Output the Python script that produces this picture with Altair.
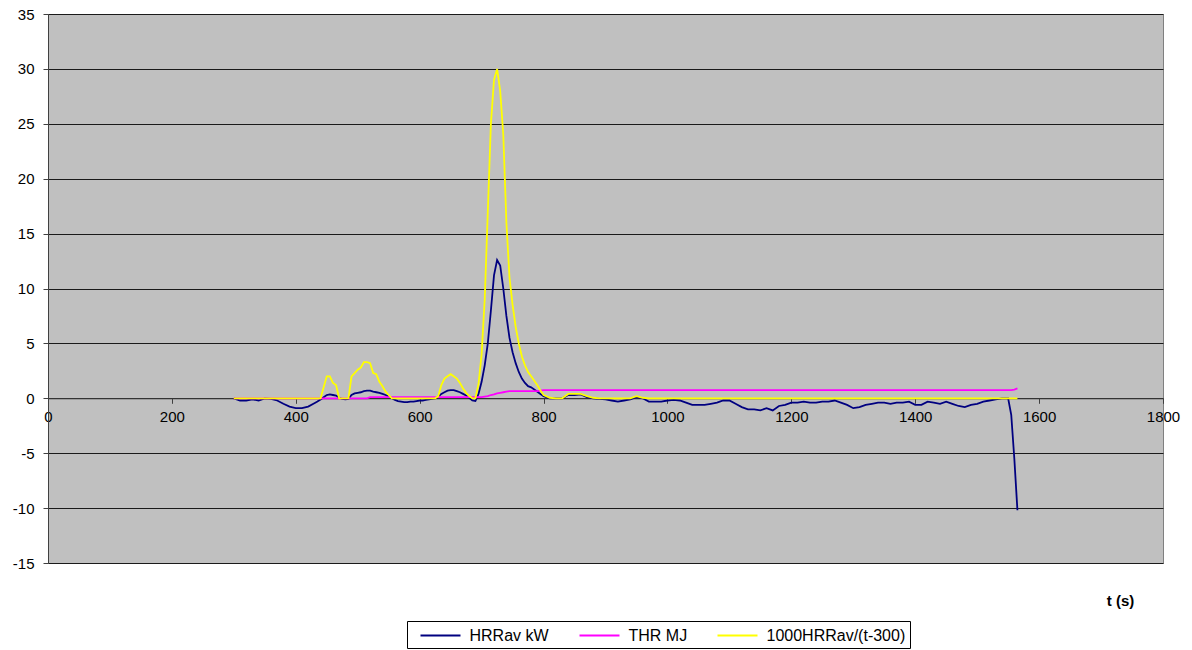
import altair as alt
import pandas as pd

# ---- time axis (s) ----
t_a = list(range(300, 431, 10))
t_b = list(range(435, 801, 5))
t_c = list(range(810, 1551, 10))
t_d = [1555, 1560, 1565]
t_values = t_a + t_b + t_c + t_d

# ---- HRRav kW ----
hrr_a = [0.0, -0.2, -0.2, -0.1, -0.2, 0.0, -0.05, -0.2, -0.5, -0.75, -0.9, -0.9, -0.75, -0.45]
hrr_b = [-0.3, -0.1, 0.1, 0.3, 0.35, 0.3, 0.25, 0.05, -0.05, -0.1,
         -0.05, 0.3, 0.45, 0.5, 0.55, 0.65, 0.7, 0.7, 0.6, 0.55,
         0.5, 0.4, 0.3, 0.15, 0.0, -0.15, -0.25, -0.3, -0.35, -0.35,
         -0.3, -0.3, -0.25, -0.2, -0.2, -0.15, -0.1, -0.05, 0.0, 0.15,
         0.4, 0.55, 0.7, 0.75, 0.75, 0.65, 0.55, 0.4, 0.25, 0.05,
         -0.2, -0.25, 0.4, 1.5, 3.0, 5.0, 8.0, 11.2, 12.6, 12.1,
         10.0, 7.5, 5.5, 4.2, 3.2, 2.4, 1.8, 1.4, 1.1, 1.0,
         0.8, 0.6, 0.4, 0.2]
hrr_c = [0.0, 0.0, 0.0, 0.3, 0.3, 0.35, 0.1, 0.0, -0.05, -0.1,
         -0.2, -0.3, -0.2, -0.1, 0.1, 0.0, -0.3, -0.3, -0.3, -0.2,
         -0.15, -0.2, -0.4, -0.6, -0.6, -0.6, -0.5, -0.4, -0.2, -0.2,
         -0.5, -0.8, -1.0, -1.0, -1.1, -0.9, -1.1, -0.7, -0.6, -0.4,
         -0.4, -0.3, -0.4, -0.4, -0.3, -0.3, -0.2, -0.4, -0.6, -0.9,
         -0.8, -0.6, -0.5, -0.4, -0.4, -0.5, -0.4, -0.4, -0.3, -0.6,
         -0.6, -0.3, -0.4, -0.5, -0.3, -0.5, -0.7, -0.8, -0.6, -0.5,
         -0.3, -0.2, -0.1, 0.0, 0.0]
hrr_d = [-1.5, -5.5, -10.2]
hrr = hrr_a + hrr_b + hrr_c + hrr_d

# ---- THR MJ ----
thr_a = [0.0] * 14
thr_b = [0.0] * 17 + [0.1] * 37 + [0.15, 0.2, 0.3, 0.35, 0.45, 0.5, 0.55, 0.6] + [0.65] * 10 + [0.7, 0.75]
thr_c = [0.75] * 75
thr_d = [0.75, 0.8, 0.9]
thr = thr_a + thr_b + thr_c + thr_d

# ---- 1000HRRav/(t-300) ----
ratio_a = [0.0] * 14
ratio_b = [0.0, 0.0, 1.0, 2.0, 2.0, 1.4, 1.2, 0.0, 0.0, 0.0,
           0.0, 2.0, 2.3, 2.6, 2.8, 3.3, 3.3, 3.2, 2.3, 2.2,
           1.5, 1.1, 0.6, 0.3, 0.0] + [0.0] * 14 + \
          [0.2, 1.2, 1.8, 2.0, 2.2, 2.0, 1.8, 1.4, 0.9, 0.5, 0.2,
           0.0, 0.0, 1.3, 4.0, 9.0, 17.0, 25.0, 29.0, 30.0, 28.0,
           24.0, 16.0, 11.0, 8.5, 6.5, 5.0, 3.8, 3.0, 2.4, 2.0,
           1.6, 1.2, 0.7, 0.3]
ratio_c = [0.05, 0.0, 0.0, 0.4, 0.4, 0.4, 0.2, 0.05, 0.0, 0.0,
           0.0, 0.0, 0.0, 0.0, 0.2, 0.05] + [0.0] * 59
ratio_d = [0.0, 0.0, 0.0]
ratio = ratio_a + ratio_b + ratio_c + ratio_d

series_names = ["HRRav kW", "THR MJ", "1000HRRav/(t-300)"]
series_colors = ["#000080", "#FF00FF", "#FFFF00"]
x_ticks = list(range(0, 1801, 200))
y_ticks = list(range(-15, 36, 5))

rows = []
for name, vals in zip(series_names, [hrr, thr, ratio]):
    for t, v in zip(t_values, vals):
        rows.append({"t": t, "value": v, "series": name})
df = pd.DataFrame(rows)

W, H = 1115, 549
FONT = "Liberation Sans"

color = alt.Color(
    "series:N",
    scale=alt.Scale(domain=series_names, range=series_colors),
    legend=alt.Legend(
        title=None,
        orient="none",
        legendX=359,
        legendY=607,
        direction="horizontal",
        symbolType="M-2.222,0L2.222,0",
        symbolSize=324,
        symbolStrokeWidth=2,
        symbolOffset=19,
        labelOffset=19,
        labelFont=FONT,
        labelFontSize=16,
        labelColor="black",
        labelLimit=300,
        columnPadding=21,
        padding=4.5,
        strokeColor="black",
        fillColor="white",
    ),
)

base = alt.Chart(df).mark_line(strokeWidth=1.8).encode(
    x=alt.X(
        "t:Q",
        scale=alt.Scale(domain=[0, 1800], nice=False, zero=False),
        axis=alt.Axis(
            values=x_ticks,
            offset=-H * 15 / 50,
            grid=False,
            labelExpr="'' + datum.value",
            title="t (s)",
            titleX=1072,
            titleY=202,
            titleAlign="center",
            titleBaseline="middle",
            titleFont=FONT,
            titleFontSize=15,
            titleFontWeight="bold",
            titleColor="black",
            labelFont=FONT,
            labelFontSize=15,
            labelColor="black",
            labelPadding=6,
            labelFlush=False,
            labelOverlap=False,
            tickSize=5,
            tickColor="#404040",
            domainColor="#404040",
        ),
    ),
    y=alt.Y(
        "value:Q",
        scale=alt.Scale(domain=[-15, 35], nice=False, zero=False),
        axis=alt.Axis(
            values=y_ticks,
            grid=True,
            gridColor="#1a1a1a",
            gridWidth=1,
            labelExpr="'' + datum.value",
            title="",
            labelFont=FONT,
            labelFontSize=15,
            labelColor="black",
            labelPadding=9,
            labelOverlap=False,
            tickSize=5,
            tickColor="#404040",
            domainColor="#404040",
        ),
    ),
    color=color,
)

layers = [base.transform_filter(alt.datum.series == n) for n in series_names]

chart = (
    alt.layer(*layers)
    .properties(
        width=W,
        height=H,
        padding={"left": 40, "top": 6, "right": 21, "bottom": 86},
        autosize=alt.AutoSizeParams(type="none"),
        background="white",
    )
    .configure_view(fill="#C0C0C0", stroke="#808080")
)

chart.save("out.html", embed_options={"renderer": "svg", "actions": False})
